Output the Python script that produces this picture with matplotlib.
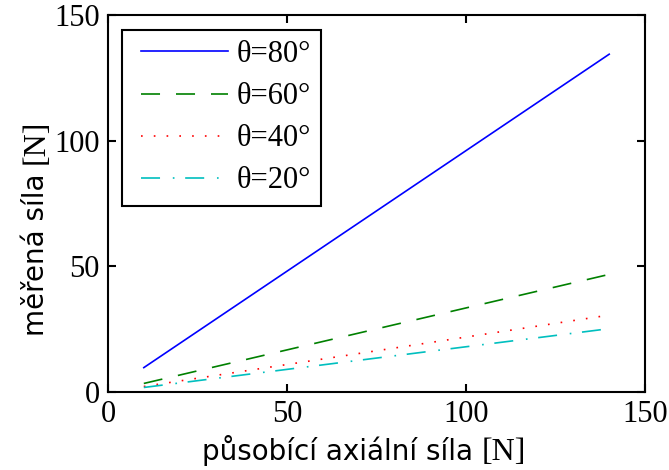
import matplotlib
matplotlib.use("Agg")
import matplotlib.pyplot as plt
from matplotlib.lines import Line2D
from matplotlib.legend_handler import HandlerLine2D

# Applied axial force [N] at the ends of each measured run
force = [10, 140]

# Measured force [N] for each contact angle
measured_80 = [9.7, 134.4]
measured_60 = [3.4, 46.8]
measured_40 = [2.2, 30.6]
measured_20 = [1.8, 25.2]

labels = ["θ=80°", "θ=60°", "θ=40°", "θ=20°"]
x_ticks = [0, 50, 100, 150]
y_ticks = [0, 50, 100, 150]
x_title, y_title, unit = "působící axiální síla ", "měřená síla ", "[N]"

plt.rcParams["font.family"] = ["DejaVu Sans"]
serif = "Liberation Serif"

W, H = 669, 470
fig = plt.figure(figsize=(W / 100, H / 100), dpi=100)
ax = fig.add_axes([108 / W, 1 - 392 / H, 537 / W, 377 / H])

lw = 1.2
ax.plot(force, measured_80, color="#0000ff", lw=lw, label=labels[0])
ax.plot(force, measured_60, color="#008000", lw=lw,
        dashes=(13.7 / lw, 11.5 / lw), label=labels[1])
ax.plot(force, measured_40, color="#ff0000", lw=lw,
        dashes=(1.2 / lw, 8.0 / lw), label=labels[2])
ax.plot(force, measured_20, color="#00bfbf", lw=lw,
        dashes=(13.7 / lw, 9.2 / lw, 1.2 / lw, 7.7 / lw), label=labels[3])

ax.set_xlim(0, 150)
ax.set_ylim(0, 150)
ax.set_xticks(x_ticks)
ax.set_yticks(y_ticks)

for lab in ax.get_xticklabels() + ax.get_yticklabels():
    lab.set_fontfamily(serif)
    lab.set_fontsize(22)

ax.tick_params(direction="in", length=6, width=1.5, top=True, right=True, pad=6)
for sp in ax.spines.values():
    sp.set_linewidth(1.5)

leg = ax.legend(loc="upper left", bbox_to_anchor=(122 / W, 1 - 30 / H),
                bbox_transform=fig.transFigure, borderaxespad=0,
                prop={"family": serif, "size": 22}, fancybox=False,
                edgecolor="black", framealpha=1, handlelength=3.13,
                handletextpad=0.3, borderpad=0.33, labelspacing=0.43,
                handler_map={Line2D: HandlerLine2D(xpad=0.28)})
leg.get_frame().set_linewidth(1.5)

# Axis titles: sans-serif words followed by a serif unit
renderer = fig.canvas.get_renderer()

tx1 = fig.text(0, 10 / H, x_title, fontsize=20, ha="left", va="baseline")
tx2 = fig.text(0, 10 / H, unit, fontsize=23, family=serif, ha="left", va="baseline")
w1 = tx1.get_window_extent(renderer).width
w2 = tx2.get_window_extent(renderer).width
x_start = 364 - (w1 + w2) / 2
tx1.set_x(x_start / W)
tx2.set_x((x_start + w1) / W)

ty1 = fig.text(44 / W, 0, y_title, fontsize=20, rotation=90,
               rotation_mode="anchor", ha="left", va="baseline")
ty2 = fig.text(44 / W, 0, unit, fontsize=23, family=serif, rotation=90,
               rotation_mode="anchor", ha="left", va="baseline")
h1 = ty1.get_window_extent(renderer).height
h2 = ty2.get_window_extent(renderer).height
y_start = (470 - 228) - (h1 + h2) / 2
ty1.set_y(y_start / H)
ty2.set_y((y_start + h1) / H)

fig.savefig("out.png", dpi=100)
